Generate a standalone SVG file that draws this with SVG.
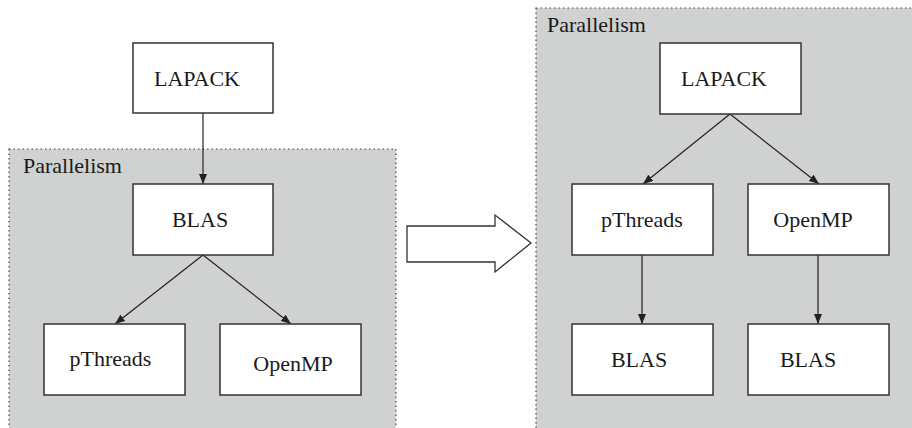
<svg xmlns="http://www.w3.org/2000/svg" width="912" height="428" viewBox="0 0 912 428">
<style>
.panel{fill:#d0d1d1;stroke:#444;stroke-width:1.2;stroke-dasharray:1.5 3}
.box{fill:#fff;stroke:#333;stroke-width:1.5}
.t{font-family:"Liberation Serif","Times New Roman",serif;font-size:22px;fill:#1a1a1a}
.m{text-anchor:middle}
.e{stroke:#222;stroke-width:1.2;fill:none;marker-end:url(#ah)}
</style>
<defs>
<marker id="ah" viewBox="0 0 10 8" refX="10" refY="4" markerWidth="10" markerHeight="8" markerUnits="userSpaceOnUse" orient="auto">
<path d="M0,0 L10,4 L0,8 Z" fill="#222"/>
</marker>
</defs>
<g id="panel-left">
<rect class="panel" x="9" y="149" width="387" height="300"/>
<text class="t" x="23" y="173">Parallelism</text>
</g>
<g id="panel-right">
<rect class="panel" x="536" y="8" width="400" height="440"/>
<text class="t" x="547" y="32">Parallelism</text>
</g>
<g id="big-arrow">
<path d="M407,226 L495,226 L495,215 L531,243 L495,272 L495,262 L407,262 Z" fill="#fff" stroke="#333" stroke-width="1.3"/>
</g>
<g id="connectors">
<path class="e" d="M203,113 L203,184"/>
<path class="e" d="M203,255 L115,324"/>
<path class="e" d="M203,255 L291,324"/>
<path class="e" d="M730,114 L643,184"/>
<path class="e" d="M730,114 L819,184"/>
<path class="e" d="M642,255 L642,324"/>
<path class="e" d="M818,255 L818,324"/>
</g>
<g id="lapack-left"><rect class="box" x="133" y="43" width="140" height="70"/><text class="t m" x="197" y="86">LAPACK</text></g>
<g id="blas-left"><rect class="box" x="133" y="184" width="140" height="71"/><text class="t m" x="200" y="227">BLAS</text></g>
<g id="pthreads-left"><rect class="box" x="44" y="324" width="141" height="71"/><text class="t m" x="110.5" y="366">pThreads</text></g>
<g id="openmp-left"><rect class="box" x="220" y="324" width="141" height="71"/><text class="t m" x="293" y="371">OpenMP</text></g>
<g id="lapack-right"><rect class="box" x="660" y="43" width="141" height="71"/><text class="t m" x="724" y="86">LAPACK</text></g>
<g id="pthreads-right"><rect class="box" x="572" y="184" width="141" height="71"/><text class="t m" x="642" y="227">pThreads</text></g>
<g id="openmp-right"><rect class="box" x="748" y="184" width="141" height="71"/><text class="t m" x="813" y="227">OpenMP</text></g>
<g id="blas-right-1"><rect class="box" x="572" y="324" width="141" height="71"/><text class="t m" x="639" y="367">BLAS</text></g>
<g id="blas-right-2"><rect class="box" x="748" y="324" width="141" height="71"/><text class="t m" x="808" y="367">BLAS</text></g>
</svg>
